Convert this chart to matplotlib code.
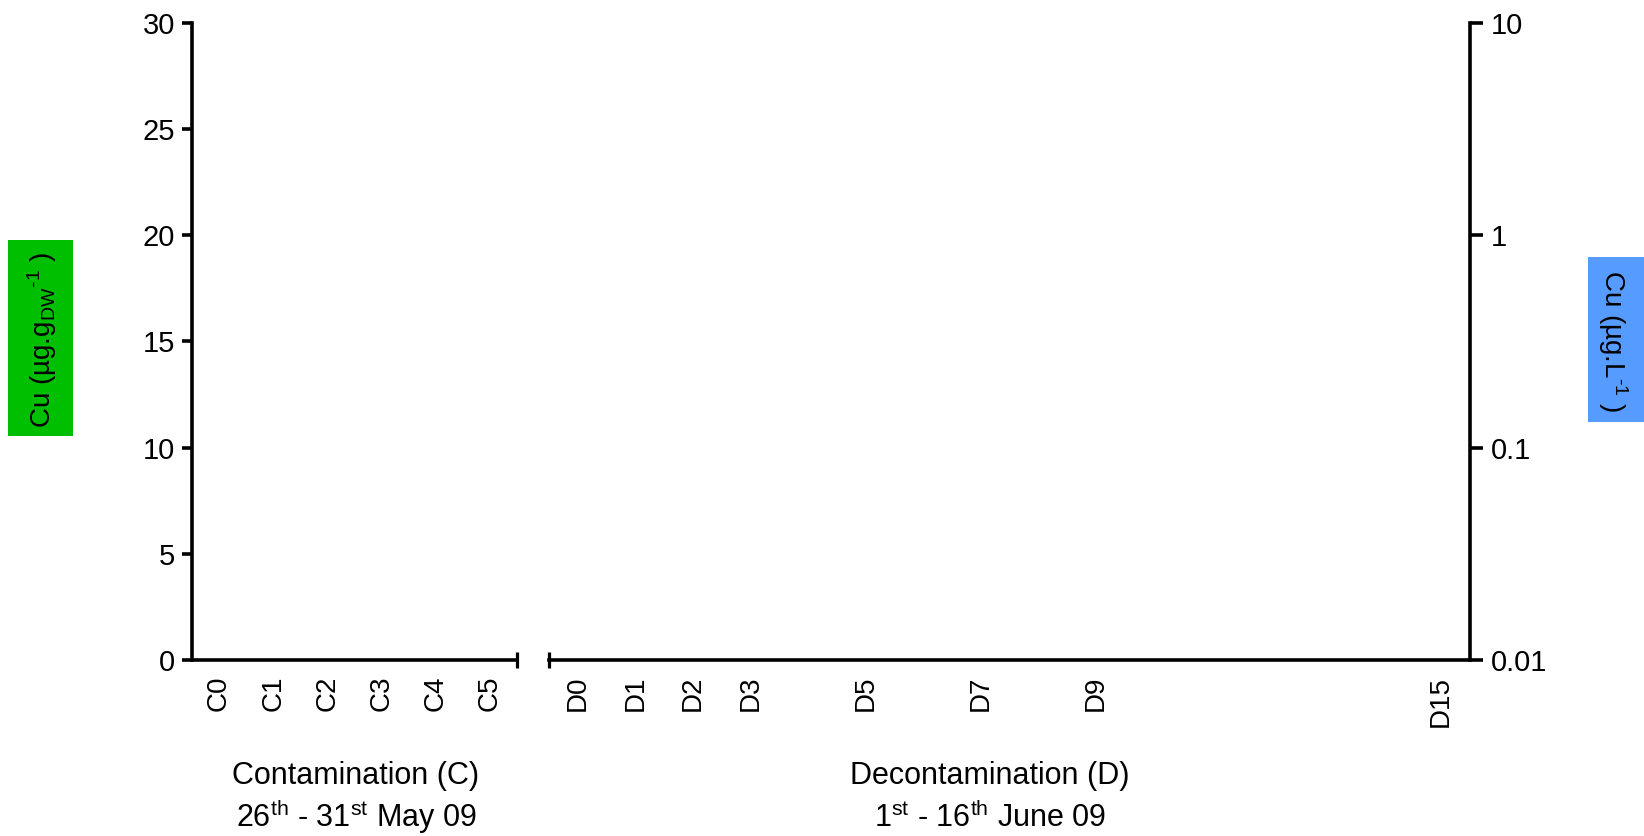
import matplotlib
matplotlib.use("Agg")
import matplotlib.pyplot as plt
from matplotlib.patches import Rectangle
from matplotlib.ticker import FixedLocator, NullLocator, FixedFormatter

plt.rcParams["font.family"] = ["Liberation Sans", "DejaVu Sans"]
plt.rcParams["mathtext.fontset"] = "custom"
plt.rcParams["mathtext.rm"] = "Liberation Sans"
plt.rcParams["mathtext.it"] = "Liberation Sans:italic"
plt.rcParams["mathtext.bf"] = "Liberation Sans:bold"

# Sampling days and their labels for the two phases
c_days = [0, 1, 2, 3, 4, 5]
c_labels = ["C0", "C1", "C2", "C3", "C4", "C5"]
d_days = [0, 1, 2, 3, 5, 7, 9, 15]
d_labels = ["D0", "D1", "D2", "D3", "D5", "D7", "D9", "D15"]

# Axis scales: tissue concentration (left, linear) and water concentration (right, log)
left_ticks = [0, 5, 10, 15, 20, 25, 30]
right_ticks = [0.01, 0.1, 1, 10]
right_tick_labels = ["0.01", "0.1", "1", "10"]

W, H = 1644, 836
fig = plt.figure(figsize=(W / 100, H / 100), dpi=100)


def fx(px):
    return px / W


def fy(py):
    return 1 - py / H


top, bottom = 22.7, 660
ax1 = fig.add_axes([fx(192), fy(bottom), fx(517) - fx(192), fy(top) - fy(bottom)])
ax2 = fig.add_axes([fx(549), fy(bottom), fx(1470) - fx(549), fy(top) - fy(bottom)])

lw = 2.6
black = "black"
tick_fs = 21
xtick_fs = 20

# Contamination panel
ax1.set_xlim(-0.5, 5.5)
ax1.set_ylim(0, 30)
ax1.spines[["top", "right"]].set_visible(False)
for s in ("left", "bottom"):
    ax1.spines[s].set_linewidth(lw)
    ax1.spines[s].set_capstyle("projecting")
ax1.set_yticks(left_ticks)
ax1.set_yticklabels([str(t) for t in left_ticks])
ax1.tick_params(axis="y", length=7, width=lw, pad=5, labelsize=tick_fs)
ax1.set_xticks(c_days)
ax1.set_xticklabels(c_labels, rotation=90)
ax1.tick_params(axis="x", which="major", length=0, pad=11.5, labelsize=xtick_fs)
ax1.xaxis.set_minor_locator(FixedLocator([5.5]))
ax1.tick_params(axis="x", which="minor", direction="inout", length=11, width=2.3)
ax1.yaxis.set_minor_locator(NullLocator())

# Decontamination panel with log right axis
ax2.set_xlim(-0.5, 15.5)
ax2.set_yscale("log")
ax2.set_ylim(0.01, 10)
ax2.spines[["top", "left"]].set_visible(False)
for s in ("right", "bottom"):
    ax2.spines[s].set_linewidth(lw)
    ax2.spines[s].set_capstyle("projecting")
ax2.yaxis.tick_right()
ax2.yaxis.set_major_locator(FixedLocator(right_ticks))
ax2.yaxis.set_major_formatter(FixedFormatter(right_tick_labels))
ax2.yaxis.set_minor_locator(NullLocator())
ax2.tick_params(axis="y", length=9, width=lw, pad=6, labelsize=tick_fs)
ax2.set_xticks(d_days)
ax2.set_xticklabels(d_labels, rotation=90)
ax2.tick_params(axis="x", which="major", length=0, pad=11.5, labelsize=xtick_fs)
ax2.xaxis.set_minor_locator(FixedLocator([-0.5]))
ax2.tick_params(axis="x", which="minor", direction="inout", length=11, width=2.3)

for ax in (ax1, ax2):
    ax.patch.set_visible(False)

# Coloured boxes behind the axis titles
fig.add_artist(Rectangle((fx(8), fy(436)), fx(73) - fx(8), fy(240) - fy(436),
                         transform=fig.transFigure, facecolor="#00be00",
                         edgecolor="none", zorder=0))
fig.add_artist(Rectangle((fx(1588), fy(422)), fx(1650) - fx(1588), fy(257) - fy(422),
                         transform=fig.transFigure, facecolor="#569bff",
                         edgecolor="none", zorder=0))

fig.text(fx(42), fy(340), "Cu (µg.g$_{\\mathrm{DW}}$$^{\\text{-1}}$ )",
         rotation=90, ha="center", va="center", fontsize=20, color=black)
fig.text(fx(1613), fy(341), "Cu (µg.L$^{\\text{-1}}$ )",
         rotation=270, ha="center", va="center", fontsize=20, color=black)

# Phase titles under the axis
fig.text(fx(356), fy(784), "Contamination (C)", ha="center", va="baseline", fontsize=22)
fig.text(fx(356), fy(827), "26$^{\\mathrm{th}}$ - 31$^{\\mathrm{st}}$ May 09",
         ha="center", va="baseline", fontsize=22)
fig.text(fx(990), fy(784), "Decontamination (D)", ha="center", va="baseline", fontsize=22)
fig.text(fx(990), fy(827), "1$^{\\mathrm{st}}$ - 16$^{\\mathrm{th}}$ June 09",
         ha="center", va="baseline", fontsize=22)

fig.savefig("out.png", dpi=100)
